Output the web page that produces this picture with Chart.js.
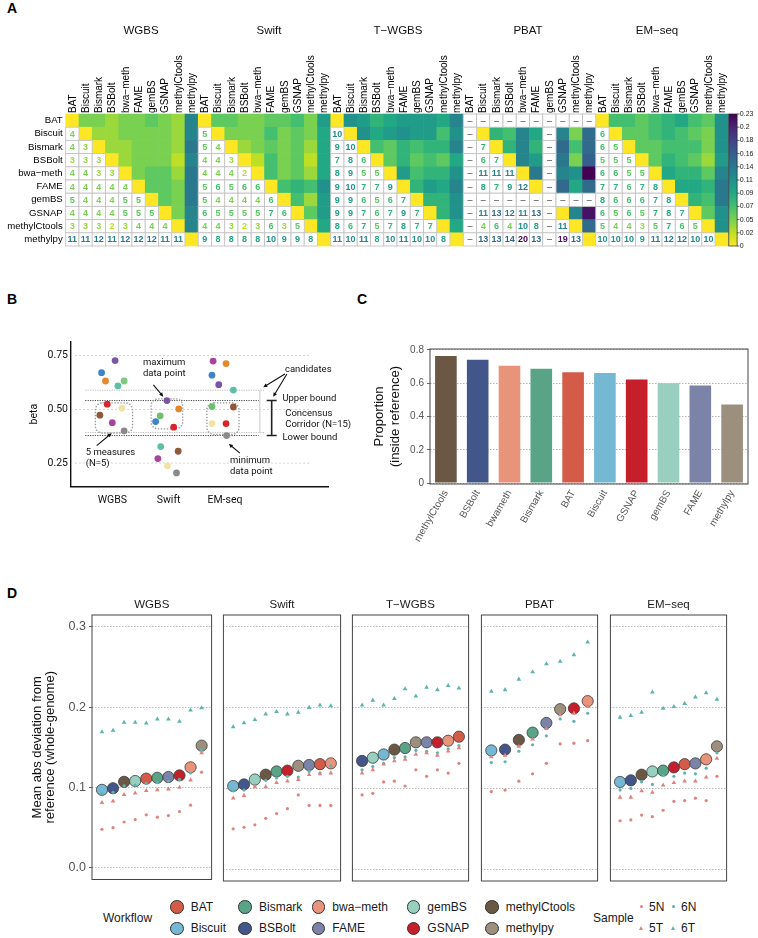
<!DOCTYPE html>
<html>
<head>
<meta charset="utf-8">
<script src="https://cdn.jsdelivr.net/npm/chart.js@4.4.1/dist/chart.umd.min.js"></script>
<style>
  body { margin: 0; background: #fff; font-family: "Liberation Sans", Arial, sans-serif; }
  #page { position: relative; width: 758px; height: 938px; overflow: hidden; }
  .pane { position: absolute; }
  .tag { position: absolute; font-weight: bold; font-size: 14px; line-height: 14px; color: #000; }
  .lg { position: absolute; font-size: 12px; line-height: 14px; color: #1a1a1a; white-space: nowrap; }
  .dot { position: absolute; border-radius: 50%; }
  .tri { position: absolute; width: 0; height: 0; }
</style>
</head>
<body>
<div id="page">
  <div class="tag" style="left:7px;top:1px">A</div>
  <div class="tag" style="left:7px;top:292px">B</div>
  <div class="tag" style="left:357px;top:292px">C</div>
  <div class="tag" style="left:7px;top:586px">D</div>

  <div class="pane" style="left:0;top:0"><canvas id="heat" width="758" height="262"></canvas></div>
  <div class="pane" style="left:0;top:320px"><canvas id="schema" width="370" height="190"></canvas></div>
  <div class="pane" style="left:370px;top:310px"><canvas id="prop" width="388" height="280"></canvas></div>
  <div id="facets"></div>
  <div id="legend"></div>
</div>

<script>
// ---------- data ----------
const workflows = ['BAT', 'Biscuit', 'Bismark', 'BSBolt', 'bwa\u2212meth', 'FAME', 'gemBS', 'GSNAP', 'methylCtools', 'methylpy'];
const protocols = ['WGBS', 'Swift', 'T\u2212WGBS', 'PBAT', 'EM\u2212seq'];

// panel A, lower triangle: printed numbers, row i holds columns 0..i-1, null = not available
const lowWGBS = [[], [4], [4, 3], [3, 3, 3], [4, 4, 3, 3], [4, 4, 4, 4, 4], [5, 4, 4, 4, 5, 5],
  [4, 4, 4, 4, 5, 5, 5], [3, 3, 3, 2, 3, 4, 4, 4], [11, 11, 12, 11, 12, 12, 12, 11, 11]];
const lowSwift = [[], [5], [5, 4], [4, 4, 3], [4, 4, 4, 2], [5, 6, 5, 6, 6], [5, 4, 4, 4, 4, 6],
  [6, 5, 5, 5, 5, 7, 6], [4, 4, 3, 2, 3, 6, 3, 5], [9, 8, 8, 8, 8, 10, 9, 9, 8]];
const lowTWGBS = [[], [10], [9, 10], [7, 8, 6], [8, 9, 5, 5], [9, 10, 7, 7, 9], [9, 9, 6, 5, 6, 7],
  [9, 9, 7, 6, 7, 9, 7], [8, 6, 7, 5, 7, 8, 7, 7], [11, 10, 11, 8, 10, 11, 10, 10, 8]];
const lowPBAT = [[], [null], [null, 7], [null, 6, 7], [null, 11, 11, 11], [null, 8, 7, 9, 12],
  [null, null, null, null, null, null], [null, 11, 13, 12, 11, 13, null],
  [null, 4, 6, 4, 10, 8, null, 11], [null, 13, 13, 14, 20, 13, null, 19, 13]];
const lowEMseq = [[], [6], [6, 5], [5, 5, 5], [6, 6, 5, 5], [7, 7, 6, 7, 8], [8, 6, 6, 6, 7, 8],
  [6, 5, 6, 5, 7, 8, 7], [5, 4, 4, 3, 5, 7, 6, 5], [10, 10, 10, 9, 11, 12, 12, 10, 10]];

// panel A, upper triangle: coloured values, row i holds columns i+1..9
const upWGBS = [[0.046, 0.046, 0.035, 0.046, 0.046, 0.058, 0.046, 0.035, 0.127],
  [0.035, 0.035, 0.046, 0.046, 0.046, 0.046, 0.035, 0.127],
  [0.035, 0.035, 0.046, 0.046, 0.046, 0.035, 0.138],
  [0.035, 0.046, 0.046, 0.046, 0.023, 0.127],
  [0.046, 0.058, 0.058, 0.035, 0.138],
  [0.058, 0.058, 0.046, 0.138],
  [0.058, 0.046, 0.138],
  [0.046, 0.127],
  [0.127]];
const upSwift = [[0.058, 0.058, 0.046, 0.046, 0.058, 0.058, 0.069, 0.046, 0.104],
  [0.046, 0.046, 0.046, 0.069, 0.046, 0.058, 0.046, 0.092],
  [0.035, 0.046, 0.058, 0.046, 0.058, 0.035, 0.092],
  [0.023, 0.069, 0.046, 0.058, 0.023, 0.092],
  [0.069, 0.046, 0.058, 0.035, 0.092],
  [0.069, 0.081, 0.069, 0.115],
  [0.069, 0.035, 0.104],
  [0.058, 0.104],
  [0.092]];
const upTWGBS = [[0.115, 0.104, 0.081, 0.092, 0.104, 0.104, 0.104, 0.092, 0.127],
  [0.115, 0.092, 0.104, 0.115, 0.104, 0.104, 0.069, 0.115],
  [0.069, 0.058, 0.081, 0.069, 0.081, 0.081, 0.127],
  [0.058, 0.081, 0.058, 0.069, 0.058, 0.092],
  [0.104, 0.069, 0.081, 0.081, 0.115],
  [0.081, 0.104, 0.092, 0.127],
  [0.081, 0.081, 0.115],
  [0.081, 0.115],
  [0.092]];
const upPBAT = [[null, null, null, null, null, null, null, null, null],
  [0.081, 0.069, 0.127, 0.092, null, 0.127, 0.046, 0.150],
  [0.081, 0.127, 0.081, null, 0.150, 0.069, 0.150],
  [0.127, 0.104, null, 0.138, 0.046, 0.161],
  [0.138, null, 0.127, 0.115, 0.230],
  [null, 0.150, 0.092, 0.150],
  [null, null, null],
  [0.127, 0.219],
  [0.150]];
const upEMseq = [[0.069, 0.069, 0.058, 0.069, 0.081, 0.092, 0.069, 0.058, 0.115],
  [0.058, 0.058, 0.069, 0.081, 0.069, 0.058, 0.046, 0.115],
  [0.058, 0.058, 0.069, 0.069, 0.069, 0.046, 0.115],
  [0.058, 0.081, 0.069, 0.058, 0.035, 0.104],
  [0.092, 0.081, 0.081, 0.058, 0.127],
  [0.092, 0.092, 0.081, 0.138],
  [0.081, 0.069, 0.138],
  [0.058, 0.115],
  [0.115]];
const heatMissing = [[], [], [], ['BAT', 'gemBS'], []];
const lowAll = [lowWGBS, lowSwift, lowTWGBS, lowPBAT, lowEMseq];
const upAll = [upWGBS, upSwift, upTWGBS, upPBAT, upEMseq];
const cbMax = 0.23;
const cbTicks = [0, 0.023, 0.046, 0.069, 0.092, 0.115, 0.138, 0.161, 0.184, 0.207, 0.23];
const cbLabels = ['0', '0.02', '0.05', '0.07', '0.09', '0.11', '0.14', '0.16', '0.18', '0.2', '0.23'];

// panel B: schematic of the consensus corridor
const bGroups = ['WGBS', 'Swift', 'EM-seq'];
const bX = [0.81, 1.05, 0.88, 1.10, 1.21, 0.91, 1.17, 0.78, 1.00, 1.21,
  1.97, 2.18, 1.85, 1.77, 2.09, 1.86, 2.17, 1.81, 1.98, 2.14,
  2.79, 3.02, 2.77, 2.89, 3.15, 2.77, 3.15, 2.77, 3.02, 3.03];
const bY = [0.671, 0.727, 0.632, 0.609, 0.632, 0.524, 0.505, 0.473, 0.438, 0.400,
  0.541, 0.502, 0.470, 0.443, 0.417, 0.327, 0.305, 0.271, 0.237, 0.204,
  0.725, 0.713, 0.659, 0.615, 0.590, 0.513, 0.511, 0.434, 0.434, 0.378];
const bTicks = [0.25, 0.5, 0.75];

// panel C
const propLabels = ['methylCtools', 'BSBolt', 'bwameth', 'Bismark', 'BAT', 'Biscuit', 'GSNAP', 'gemBS', 'FAME', 'methylpy'];
const propValues = [0.764, 0.741, 0.705, 0.687, 0.666, 0.662, 0.622, 0.600, 0.587, 0.472];
const propTicks = [0, 0.2, 0.4, 0.6, 0.8];

// panel D: workflows ranked per protocol, mean and per-sample deviation
const dOrderWGBS = ['Biscuit', 'BSBolt', 'methylCtools', 'gemBS', 'BAT', 'Bismark', 'FAME', 'GSNAP', 'bwa\u2212meth', 'methylpy'];
const dMeanWGBS = [0.097, 0.099, 0.107, 0.108, 0.111, 0.112, 0.113, 0.115, 0.125, 0.152];
const d5NWGBS = [0.048, 0.050, 0.057, 0.060, 0.066, 0.063, 0.065, 0.070, 0.078, 0.119];
const d5TWGBS = [0.081, 0.083, 0.091, 0.093, 0.096, 0.097, 0.098, 0.100, 0.109, 0.143];
const d6NWGBS = [0.092, 0.094, 0.102, 0.103, 0.105, 0.106, 0.108, 0.110, 0.118, 0.146];
const d6TWGBS = [0.169, 0.171, 0.181, 0.181, 0.180, 0.185, 0.185, 0.182, 0.196, 0.199];

const dOrderSwift = ['Biscuit', 'BSBolt', 'gemBS', 'methylCtools', 'Bismark', 'GSNAP', 'methylpy', 'FAME', 'BAT', 'bwa\u2212meth'];
const dMeanSwift = [0.103, 0.105, 0.111, 0.117, 0.121, 0.122, 0.128, 0.129, 0.130, 0.131];
const d5NSwift = [0.050, 0.052, 0.055, 0.063, 0.069, 0.075, 0.092, 0.079, 0.079, 0.079];
const d5TSwift = [0.088, 0.091, 0.102, 0.102, 0.107, 0.109, 0.111, 0.117, 0.118, 0.119];
const d6NSwift = [0.097, 0.098, 0.104, 0.110, 0.113, 0.115, 0.114, 0.121, 0.119, 0.128];
const d6TSwift = [0.176, 0.181, 0.185, 0.192, 0.195, 0.192, 0.194, 0.200, 0.203, 0.202];

const dOrderTWGBS = ['BSBolt', 'gemBS', 'Biscuit', 'methylCtools', 'Bismark', 'methylpy', 'FAME', 'GSNAP', 'bwa\u2212meth', 'BAT'];
const dMeanTWGBS = [0.134, 0.138, 0.142, 0.148, 0.150, 0.157, 0.157, 0.157, 0.159, 0.164];
const d5NTWGBS = [0.092, 0.094, 0.108, 0.109, 0.103, 0.123, 0.115, 0.123, 0.119, 0.131];
const d5TTWGBS = [0.119, 0.123, 0.130, 0.134, 0.136, 0.142, 0.144, 0.141, 0.146, 0.150];
const d6NTWGBS = [0.123, 0.127, 0.131, 0.138, 0.139, 0.147, 0.146, 0.144, 0.149, 0.153];
const d6TTWGBS = [0.203, 0.209, 0.203, 0.211, 0.223, 0.214, 0.225, 0.222, 0.227, 0.224];

const dOrderPBAT = ['Biscuit', 'BSBolt', 'methylCtools', 'Bismark', 'FAME', 'methylpy', 'GSNAP', 'bwa\u2212meth'];
const dMeanPBAT = [0.147, 0.148, 0.160, 0.169, 0.181, 0.198, 0.199, 0.208];
const d5NPBAT = [0.096, 0.098, 0.109, 0.118, 0.131, 0.155, 0.156, 0.159];
const d5TPBAT = [0.139, 0.141, 0.152, 0.161, 0.174, 0.191, 0.193, 0.201];
const d6NPBAT = [0.132, 0.133, 0.146, 0.154, 0.165, 0.186, 0.183, 0.193];
const d6TPBAT = [0.220, 0.222, 0.235, 0.244, 0.254, 0.257, 0.265, 0.281];

const dOrderEMseq = ['Biscuit', 'BSBolt', 'methylCtools', 'gemBS', 'Bismark', 'GSNAP', 'BAT', 'FAME', 'bwa\u2212meth', 'methylpy'];
const dMeanEMseq = [0.108, 0.110, 0.117, 0.121, 0.122, 0.126, 0.130, 0.131, 0.136, 0.152];
const d5NEMseq = [0.060, 0.061, 0.067, 0.065, 0.073, 0.084, 0.085, 0.088, 0.085, 0.115];
const d5TEMseq = [0.089, 0.089, 0.097, 0.095, 0.104, 0.107, 0.109, 0.109, 0.114, 0.137];
const d6NEMseq = [0.098, 0.100, 0.108, 0.105, 0.116, 0.115, 0.119, 0.118, 0.125, 0.144];
const d6TEMseq = [0.188, 0.190, 0.194, 0.219, 0.199, 0.201, 0.205, 0.213, 0.218, 0.210];
const dTicks = [0, 0.1, 0.2, 0.3];

// ---------- styling ----------
const wfColors = {
  'BAT': '#d45b47', 'Biscuit': '#74b8d3', 'Bismark': '#59a387', 'BSBolt': '#43568a',
  'bwa\u2212meth': '#e8937a', 'bwameth': '#e8937a', 'FAME': '#7b84a8', 'gemBS': '#98cfbf',
  'GSNAP': '#c51f2c', 'methylCtools': '#6a5845', 'methylpy': '#9c8f7e'
};
const salmon = '#e0837e';
const teal = '#5bb5ae';
const bColors = ['#3d85c6', '#7a55a6', '#e3892c', '#5ebfa6', '#80c77f', '#d7262b', '#f2e3a5', '#8c5a3b', '#a8449c', '#8a8a8a',
  '#7a55a6', '#e3892c', '#6cbf6c', '#3d85c6', '#d7262b', '#5ebfa6', '#8c5a3b', '#a8449c', '#f2e3a5', '#8a8a8a',
  '#a8449c', '#e3892c', '#3d85c6', '#7a55a6', '#5ebfa6', '#6cbf6c', '#8c5a3b', '#f2e3a5', '#d7262b', '#8a8a8a'];

const viridisStops = ['#440154', '#482475', '#414487', '#355f8d', '#2a788e', '#21918c',
  '#22a884', '#44bf70', '#7ad151', '#bddf26', '#fde725'];
const hexRgb = h => [1, 3, 5].map(i => parseInt(h.slice(i, i + 2), 16));
function viridis(t) {
  t = Math.max(0, Math.min(1, t));
  const p = t * 10, i = Math.min(9, Math.floor(p)), f = p - i;
  const a = hexRgb(viridisStops[i]), b = hexRgb(viridisStops[i + 1]);
  return 'rgb(' + a.map((c, k) => Math.round(c + (b[k] - c) * f)).join(',') + ')';
}
const heatColor = v => viridis(1 - v / cbMax);

Chart.defaults.font.family = '"Liberation Sans", Arial, sans-serif';
Chart.defaults.animation = false;

const framePlugin = {
  id: 'frame',
  afterDraw(chart) {
    const { ctx, chartArea: a } = chart;
    ctx.save();
    ctx.strokeStyle = '#444';
    ctx.lineWidth = 1;
    ctx.strokeRect(a.left, a.top, a.right - a.left, a.bottom - a.top);
    ctx.restore();
  }
};

// ---------- A: heatmap ----------
const heatPlugin = {
  id: 'heatcells',
  afterDraw(chart) {
    const { ctx, scales: { x, y, cb }, chartArea } = chart;
    const cw = x.getPixelForValue(1) - x.getPixelForValue(0);
    const rh = y.getPixelForValue(1) - y.getPixelForValue(0);
    ctx.save();
    const whites = [];
    lowAll.forEach((low, f) => {
      const up = upAll[f];
      const miss = heatMissing[f];
      for (let r = 0; r < 10; r++) {
        for (let c = 0; c < 10; c++) {
          const cx = x.getPixelForValue(f * 10 + c), cy = y.getPixelForValue(r);
          const na = miss.includes(workflows[r]) || miss.includes(workflows[c]);
          if (na || r > c) {
            whites.push({ cx, cy, v: na ? null : low[r][c], col: na ? null : up[c][r - c - 1] });
          } else {
            const v = r === c ? 0 : up[r][c - r - 1];
            ctx.fillStyle = heatColor(v);
            ctx.fillRect(cx - cw / 2 - 0.3, cy - rh / 2 - 0.3, cw + 0.6, rh + 0.6);
          }
        }
      }
    });
    ctx.textAlign = 'center';
    ctx.textBaseline = 'middle';
    whites.forEach(w => {
      ctx.fillStyle = '#fff';
      ctx.fillRect(w.cx - cw / 2, w.cy - rh / 2, cw, rh);
      ctx.strokeStyle = '#c4c4c4';
      ctx.lineWidth = 0.9;
      ctx.strokeRect(w.cx - cw / 2, w.cy - rh / 2, cw, rh);
      if (w.v === null) {
        ctx.fillStyle = '#333';
        ctx.font = '9px "Liberation Sans", Arial';
        ctx.fillText('\u2013', w.cx, w.cy + 0.5);
      } else {
        ctx.fillStyle = heatColor(w.col);
        ctx.font = 'bold 9px "Liberation Sans", Arial';
        ctx.fillText(String(w.v), w.cx, w.cy + 0.5);
      }
    });
    // facet titles
    ctx.fillStyle = '#111';
    ctx.font = '11.5px "Liberation Sans", Arial';
    const titleX = [141, 269, 398, 528, 657];
    protocols.forEach((p, f) => ctx.fillText(p, titleX[f], 31));
    // colour bar
    const x0 = chartArea.right + 0.5, bw = 8.3;
    const yTop = cb.getPixelForValue(cbMax), yBot = cb.getPixelForValue(0);
    const g = ctx.createLinearGradient(0, yBot, 0, yTop);
    viridisStops.forEach((s, i) => g.addColorStop(1 - i / 10, s));
    ctx.fillStyle = g;
    ctx.fillRect(x0, yTop, bw, yBot - yTop);
    ctx.strokeStyle = '#222';
    ctx.lineWidth = 0.7;
    ctx.strokeRect(x0, yTop, bw, yBot - yTop);
    cbTicks.forEach(v => {
      const py = cb.getPixelForValue(v);
      ctx.beginPath();
      ctx.moveTo(x0 + bw, py);
      ctx.lineTo(x0 + bw + 2.5, py);
      ctx.stroke();
    });
    ctx.restore();
  }
};

new Chart(document.getElementById('heat'), {
  type: 'scatter',
  data: { datasets: [] },
  options: {
    responsive: false,
    events: [],
    layout: { padding: { left: 0, right: 0, top: 0, bottom: 16 } },
    plugins: { legend: { display: false }, tooltip: { enabled: false } },
    scales: {
      x: {
        type: 'category', labels: protocols.flatMap(() => workflows), position: 'top', offset: true,
        grid: { display: false, drawTicks: false }, border: { display: false },
        ticks: { autoSkip: false, minRotation: 90, maxRotation: 90, padding: 1, labelOffset: 12.5, color: '#000', font: { size: 10 } },
        afterFit: s => { s.height = 114; }
      },
      y: {
        type: 'category', labels: workflows, offset: true,
        grid: { display: false, drawTicks: false }, border: { display: false },
        ticks: { autoSkip: false, color: '#000', padding: 3, font: { size: 9.6 } },
        afterFit: s => { s.width = 65.7; }
      },
      cb: {
        type: 'linear', position: 'right', min: 0, max: cbMax,
        grid: { display: false, drawTicks: false }, border: { display: false },
        afterBuildTicks: s => { s.ticks = cbTicks.map(v => ({ value: v })); },
        ticks: { autoSkip: false, padding: 11.5, color: '#222', font: { size: 7 }, callback: (v, i) => cbLabels[i] },
        afterFit: s => { s.width = 29.7; }
      }
    }
  },
  plugins: [heatPlugin]
});

// ---------- B: schematic ----------
const bGuides = [
  { y: 0.75, x0: 0.34, x1: 4.5, kind: 'grid' }, { y: 0.5, x0: 0.34, x1: 4.5, kind: 'grid' },
  { y: 0.25, x0: 0.34, x1: 4.5, kind: 'grid' },
  { y: 0.589, x0: 0.52, x1: 3.71, kind: 'light' }, { y: 0.392, x0: 0.52, x1: 3.71, kind: 'light' },
  { y: 0.541, x0: 0.52, x1: 3.6, kind: 'dark' }, { y: 0.378, x0: 0.52, x1: 3.6, kind: 'dark' }
];
const bBoxes = [[0.70, 1.36, 0.530, 0.390], [1.69, 2.25, 0.549, 0.409], [2.68, 3.25, 0.530, 0.383]];
const bTexts = [
  ['maximum', 1.545, 0.717], ['data point', 1.545, 0.665], ['candidates', 4.065, 0.687],
  ['Upper bound', 4.02, 0.549], ['Concensus', 4.07, 0.482], ['Corridor (N=15)', 4.07, 0.429],
  ['Lower bound', 4.02, 0.367], ['5 measures', 0.528, 0.299], ['(N=5)', 0.528, 0.246],
  ['minimum', 3.09, 0.263], ['data point', 3.09, 0.209]
];
const bArrows = [
  [1.73, 0.614, 1.905, 0.559], [4.065, 0.665, 3.68, 0.603], [4.1, 0.665, 3.857, 0.559],
  [0.723, 0.331, 0.989, 0.389], [3.266, 0.296, 3.07, 0.339]
];

const schemaPlugin = {
  id: 'schema',
  beforeDatasetsDraw(chart) {
    const { ctx, scales: { x, y } } = chart;
    ctx.save();
    bGuides.forEach(g => {
      ctx.strokeStyle = g.kind === 'dark' ? '#444' : (g.kind === 'light' ? '#aaa' : '#c8c8c8');
      ctx.lineWidth = g.kind === 'dark' ? 1 : 0.8;
      ctx.setLineDash(g.kind === 'grid' ? [2, 2] : [1.2, 1.2]);
      const py = y.getPixelForValue(g.y);
      ctx.beginPath();
      ctx.moveTo(x.getPixelForValue(g.x0), py);
      ctx.lineTo(x.getPixelForValue(g.x1), py);
      ctx.stroke();
    });
    ctx.strokeStyle = '#9a9a9a';
    ctx.lineWidth = 1.4;
    ctx.setLineDash([1.4, 1.6]);
    bBoxes.forEach(b => {
      const l = x.getPixelForValue(b[0]), r = x.getPixelForValue(b[1]);
      const t = y.getPixelForValue(b[2]), bo = y.getPixelForValue(b[3]);
      ctx.beginPath();
      ctx.roundRect(l, t, r - l, bo - t, 7);
      ctx.stroke();
    });
    ctx.setLineDash([]);
    // light bracket for the candidates
    const lx = x.getPixelForValue(3.62);
    ctx.strokeStyle = '#d0d0d0';
    ctx.lineWidth = 1.2;
    ctx.beginPath();
    ctx.moveTo(lx, y.getPixelForValue(0.589));
    ctx.lineTo(lx, y.getPixelForValue(0.392));
    ctx.stroke();
    // dark I-beam for the corridor
    const dx = x.getPixelForValue(3.83), cap = 5;
    const uy = y.getPixelForValue(0.541), ly = y.getPixelForValue(0.378);
    ctx.strokeStyle = '#222';
    ctx.lineWidth = 1.6;
    ctx.beginPath();
    ctx.moveTo(dx, uy); ctx.lineTo(dx, ly);
    ctx.moveTo(dx - cap, uy); ctx.lineTo(dx + cap, uy);
    ctx.moveTo(dx - cap, ly); ctx.lineTo(dx + cap, ly);
    ctx.stroke();
    ctx.restore();
  },
  afterDatasetsDraw(chart) {
    const { ctx, scales: { x, y } } = chart;
    ctx.save();
    ctx.fillStyle = '#111';
    ctx.font = '9.5px Roboto, "Liberation Sans", Arial';
    ctx.textAlign = 'left';
    ctx.textBaseline = 'middle';
    bTexts.forEach(t => ctx.fillText(t[0], x.getPixelForValue(t[1]), y.getPixelForValue(t[2])));
    ctx.strokeStyle = '#111';
    ctx.lineWidth = 1.1;
    bArrows.forEach(a => {
      const x1 = x.getPixelForValue(a[0]), y1 = y.getPixelForValue(a[1]);
      const x2 = x.getPixelForValue(a[2]), y2 = y.getPixelForValue(a[3]);
      const ang = Math.atan2(y2 - y1, x2 - x1), h = 4.5;
      ctx.beginPath();
      ctx.moveTo(x1, y1);
      ctx.lineTo(x2 - Math.cos(ang) * 2, y2 - Math.sin(ang) * 2);
      ctx.stroke();
      ctx.beginPath();
      ctx.moveTo(x2, y2);
      ctx.lineTo(x2 - h * Math.cos(ang - 0.45), y2 - h * Math.sin(ang - 0.45));
      ctx.lineTo(x2 - h * Math.cos(ang + 0.45), y2 - h * Math.sin(ang + 0.45));
      ctx.closePath();
      ctx.fill();
    });
    ctx.restore();
  }
};

new Chart(document.getElementById('schema'), {
  type: 'scatter',
  data: {
    datasets: [{
      data: bX.map((v, i) => ({ x: v, y: bY[i] })),
      backgroundColor: bColors, borderWidth: 0, pointRadius: 3.4
    }]
  },
  options: {
    responsive: false,
    events: [],
    layout: { padding: { left: 28, right: 42, top: 21.7, bottom: 0 } },
    plugins: { legend: { display: false }, tooltip: { enabled: false } },
    scales: {
      x: {
        type: 'linear', min: 0.267, max: 4.83,
        afterBuildTicks: s => { s.ticks = [1, 2, 3].map(v => ({ value: v })); },
        grid: { display: false, drawTicks: false }, border: { color: '#111', width: 1.4 },
        ticks: { padding: 7, color: '#111', font: { family: 'Roboto', size: 10.5 }, callback: (v, i) => bGroups[i] },
        afterFit: s => { s.height = 23.3; }
      },
      y: {
        min: 0.14, max: 0.815,
        afterBuildTicks: s => { s.ticks = bTicks.map(v => ({ value: v })); },
        grid: { display: false, drawTicks: false }, border: { color: '#111', width: 1.4 },
        ticks: { padding: 3, color: '#111', font: { family: 'Roboto', size: 10.5 }, callback: v => v.toFixed(2) },
        title: { display: true, text: 'beta', color: '#111', font: { family: 'Roboto', size: 10.5 }, padding: 0 },
        afterFit: s => { s.width = 43; }
      }
    }
  },
  plugins: [schemaPlugin]
});

// ---------- C: proportion bars ----------
new Chart(document.getElementById('prop'), {
  type: 'bar',
  data: {
    labels: propLabels,
    datasets: [{
      data: propValues,
      backgroundColor: propLabels.map(l => wfColors[l]),
      barPercentage: 0.68, categoryPercentage: 1, borderWidth: 0
    }]
  },
  options: {
    responsive: false,
    events: [],
    layout: { padding: { left: 0, right: 10, top: 39, bottom: 0 } },
    plugins: { legend: { display: false }, tooltip: { enabled: false } },
    scales: {
      x: {
        grid: { display: false, drawTicks: true, tickLength: 3 }, border: { display: false },
        ticks: { autoSkip: false, minRotation: 60, maxRotation: 60, padding: 1, color: '#555', font: { size: 10 } },
        afterFit: s => { s.height = 106; }
      },
      y: {
        min: -0.006, max: 0.806,
        afterBuildTicks: s => { s.ticks = propTicks.map(v => ({ value: v })); },
        grid: { color: '#9a9a9a', lineWidth: 0.8, tickLength: 3, tickColor: '#444', tickBorderDash: [] },
        border: { display: false, dash: [1.5, 1.5] },
        ticks: { padding: 3, color: '#555', font: { size: 10 }, callback: v => String(v) },
        title: { display: true, text: ['Proportion', '(inside reference)'], color: '#111', font: { size: 13 }, padding: { top: 2, bottom: 2 } },
        afterFit: s => { s.width = 60; }
      }
    }
  },
  plugins: [framePlugin]
});

// ---------- D: facets ----------
const dFacets = [
  [dOrderWGBS, dMeanWGBS, d5NWGBS, d5TWGBS, d6NWGBS, d6TWGBS],
  [dOrderSwift, dMeanSwift, d5NSwift, d5TSwift, d6NSwift, d6TSwift],
  [dOrderTWGBS, dMeanTWGBS, d5NTWGBS, d5TTWGBS, d6NTWGBS, d6TTWGBS],
  [dOrderPBAT, dMeanPBAT, d5NPBAT, d5TPBAT, d6NPBAT, d6TPBAT],
  [dOrderEMseq, dMeanEMseq, d5NEMseq, d5TEMseq, d6NEMseq, d6TEMseq]
];
const stripPlugin = {
  id: 'strip',
  afterDraw(chart, args, opts) {
    const { ctx, chartArea: a } = chart;
    ctx.save();
    ctx.fillStyle = '#1a1a1a';
    ctx.font = '11.5px "Liberation Sans", Arial';
    ctx.textAlign = 'center';
    ctx.textBaseline = 'middle';
    ctx.fillText(opts.text, (a.left + a.right) / 2, a.top - 10);
    ctx.restore();
  }
};
const pts = ys => ys.map((v, i) => ({ x: i + 1, y: v }));
const facetHolder = document.getElementById('facets');
dFacets.forEach((fd, f) => {
  const [order, mean, s5N, s5T, s6N, s6T] = fd;
  const first = f === 0;
  const boxLeft = 92 + f * 128.9, boxW = 121.2;
  const left = first ? 0 : Math.round(boxLeft - 4);
  const padL = boxLeft - left;
  const width = Math.ceil(boxLeft + boxW + 4 - left);
  const div = document.createElement('div');
  div.className = 'pane';
  div.style.left = left + 'px';
  div.style.top = '590px';
  const cv = document.createElement('canvas');
  cv.width = width; cv.height = 300;
  div.appendChild(cv);
  facetHolder.appendChild(div);
  const n = order.length, pad = 0.09 * n;
  new Chart(cv, {
    type: 'scatter',
    data: {
      datasets: [
        { data: pts(s5N), pointStyle: 'circle', pointRadius: 1.6, backgroundColor: salmon, borderWidth: 0 },
        { data: pts(s5T), pointStyle: 'triangle', pointRadius: 2.7, backgroundColor: salmon, borderWidth: 0 },
        { data: pts(s6N), pointStyle: 'circle', pointRadius: 1.6, backgroundColor: teal, borderWidth: 0 },
        { data: pts(s6T), pointStyle: 'triangle', pointRadius: 2.7, backgroundColor: teal, borderWidth: 0 },
        { data: pts(mean), pointStyle: 'circle', pointRadius: 5.6, backgroundColor: order.map(w => wfColors[w]), borderColor: '#3a3a3a', borderWidth: 0.8 }
      ]
    },
    options: {
      responsive: false,
      events: [],
      layout: { padding: { left: first ? 29 : padL, right: width - (boxLeft - left) - boxW, top: 25, bottom: 9 } },
      plugins: { legend: { display: false }, tooltip: { enabled: false }, strip: { text: protocols[f] } },
      scales: {
        x: { type: 'linear', display: false, min: 1 - pad, max: n + pad },
        y: {
          min: -0.0145, max: 0.3145,
          afterBuildTicks: s => { s.ticks = dTicks.map(v => ({ value: v })); },
          grid: { color: '#a8a8a8', lineWidth: 0.8, drawTicks: first, tickLength: 3, tickColor: '#444', tickBorderDash: [] },
          border: { display: false, dash: [1.5, 1.5] },
          ticks: { display: first, padding: 3, color: '#555', font: { size: 12.5 }, callback: v => v.toFixed(1) },
          title: {
            display: first, text: ['Mean abs deviation from', 'reference (whole-genome)'],
            color: '#111', font: { size: 13, lineHeight: 1.0 }, padding: { top: 2, bottom: 4 }
          },
          afterFit: s => { s.width = first ? 63 : 0; }
        }
      }
    },
    plugins: [framePlugin, stripPlugin]
  });
});

// ---------- D: legend ----------
const legend = document.getElementById('legend');
function addText(txt, x, yc) {
  const d = document.createElement('div');
  d.className = 'lg';
  d.textContent = txt;
  d.style.left = x + 'px';
  d.style.top = (yc - 7) + 'px';
  legend.appendChild(d);
}
function addDot(x, yc, r, color, border) {
  const d = document.createElement('div');
  d.className = 'dot';
  d.style.width = d.style.height = (2 * r) + 'px';
  d.style.left = (x - r - (border ? 0.8 : 0)) + 'px';
  d.style.top = (yc - r - (border ? 0.8 : 0)) + 'px';
  d.style.background = color;
  if (border) d.style.border = '0.8px solid #333';
  legend.appendChild(d);
}
function addTri(x, yc, color) {
  const d = document.createElement('div');
  d.className = 'tri';
  d.style.left = (x - 2.6) + 'px';
  d.style.top = (yc - 2.4) + 'px';
  d.style.borderLeft = '2.6px solid transparent';
  d.style.borderRight = '2.6px solid transparent';
  d.style.borderBottom = '4.6px solid ' + color;
  legend.appendChild(d);
}
const legCols = [176.7, 245, 318.3, 413.3, 491.7];
const legRows = [906.7, 928.3];
addText('Workflow', 103, 918);
workflows.forEach((w, i) => {
  const c = Math.floor(i / 2), r = i % 2;
  addDot(legCols[c], legRows[r], 5.8, wfColors[w], true);
  addText(w, legCols[c] + 14, legRows[r]);
});
addText('Sample', 593, 918);
addDot(641.7, legRows[0], 1.7, salmon, false); addText('5N', 649, legRows[0]);
addDot(673.3, legRows[0], 1.7, teal, false); addText('6N', 681, legRows[0]);
addTri(641.7, legRows[1], salmon); addText('5T', 649, legRows[1]);
addTri(673.3, legRows[1], teal); addText('6T', 681, legRows[1]);
</script>
</body>
</html>
